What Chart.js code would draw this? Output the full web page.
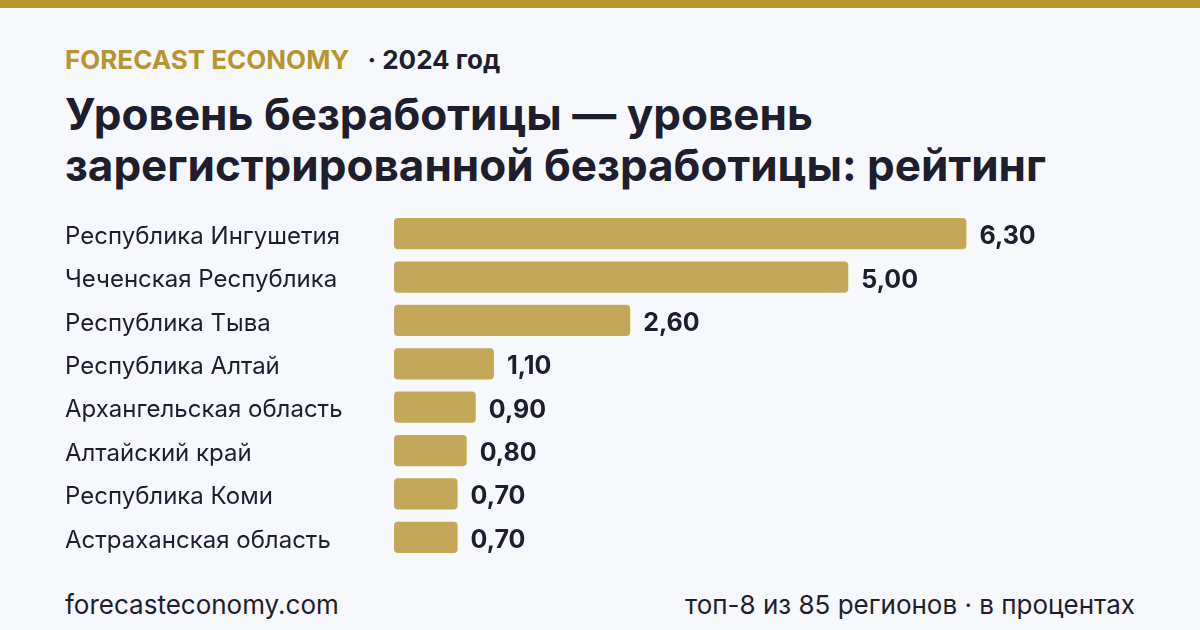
<!DOCTYPE html>
<html lang="ru">
<head>
<meta charset="utf-8">
<script src="https://cdn.jsdelivr.net/npm/chart.js@4"></script>
<style>
  body { margin: 0; background: #f7f8fc; font-family: Inter, "Noto Sans", sans-serif; color: #1e1e2e; }
  #page { position: relative; width: 1200px; height: 630px; overflow: hidden; background: #f7f8fc; }
  #stripe { position: absolute; left: 0; top: 0; width: 1200px; height: 8px; background: #b8952e; }
  #brand { position: absolute; left: 65px; top: 44px; font-size: 26px; font-weight: 700; line-height: 32px; white-space: nowrap; }
  #brand .gold { color: #b8952e; margin-right: 18px; }
  #title { position: absolute; left: 65px; top: 89px; font-size: 44px; font-weight: 700; line-height: 51px; white-space: nowrap; }
  #chartBox { position: absolute; left: 65px; top: 212px; width: 1135px; height: 347px; }
  .foot { position: absolute; top: 590px; font-size: 26px; line-height: 30px; white-space: nowrap; }
  #footL { left: 65px; }
  #footR { right: 65px; }
</style>
</head>
<body>
<div id="page">
  <div id="stripe"></div>
  <div id="brand"><span class="gold">FORECAST ECONOMY</span>· 2024 год</div>
  <div id="title">Уровень безработицы — уровень<br>зарегистрированной безработицы: рейтинг</div>
  <div id="chartBox"><canvas id="rankChart"></canvas></div>
  <div class="foot" id="footL">forecasteconomy.com</div>
  <div class="foot" id="footR">топ-8 из 85 регионов · в процентах</div>
</div>
<script>
// регионы и значения (в процентах)
const regions = [
  'Республика Ингушетия',
  'Чеченская Республика',
  'Республика Тыва',
  'Республика Алтай',
  'Архангельская область',
  'Алтайский край',
  'Республика Коми',
  'Астраханская область'
];
const rates = [6.3, 5.0, 2.6, 1.1, 0.9, 0.8, 0.7, 0.7];

// value labels at the end of each bar
const valueLabels = {
  id: 'valueLabels',
  afterDatasetsDraw(chart) {
    const ctx = chart.ctx;
    const meta = chart.getDatasetMeta(0);
    ctx.save();
    ctx.font = '700 25px Inter, "Noto Sans", sans-serif';
    ctx.fillStyle = '#1e1e2e';
    ctx.textBaseline = 'middle';
    ctx.textAlign = 'left';
    meta.data.forEach((bar, i) => {
      const txt = rates[i].toFixed(2).replace('.', ',');
      ctx.fillText(txt, bar.x + 13, bar.y + 3);
    });
    ctx.restore();
  }
};

const ctx = document.getElementById('rankChart').getContext('2d');
new Chart(ctx, {
  type: 'bar',
  data: {
    labels: regions,
    datasets: [{
      data: rates,
      backgroundColor: '#c4a85a',
      borderRadius: 4,
      borderSkipped: false,
      categoryPercentage: 1,
      barPercentage: 0.72
    }]
  },
  options: {
    indexAxis: 'y',
    responsive: true,
    maintainAspectRatio: false,
    animation: false,
    layout: { padding: { left: 0, right: 170, top: 0, bottom: 0 } },
    plugins: { legend: { display: false }, tooltip: { enabled: false } },
    scales: {
      x: { display: false, min: 0, max: 7 },
      y: {
        grid: { display: false, drawTicks: false },
        border: { display: false },
        afterFit(scale) {
          scale.width = 329;
          // no extra room for half labels, rows fill the whole box
          scale.paddingTop = 0;
          scale.paddingBottom = 0;
        },
        ticks: {
          crossAlign: 'far',
          padding: 0,
          labelOffset: 3,
          color: '#1e1e2e',
          font: { family: 'Inter, "Noto Sans", sans-serif', size: 24 }
        }
      }
    }
  },
  plugins: [valueLabels]
});
</script>
</body>
</html>
